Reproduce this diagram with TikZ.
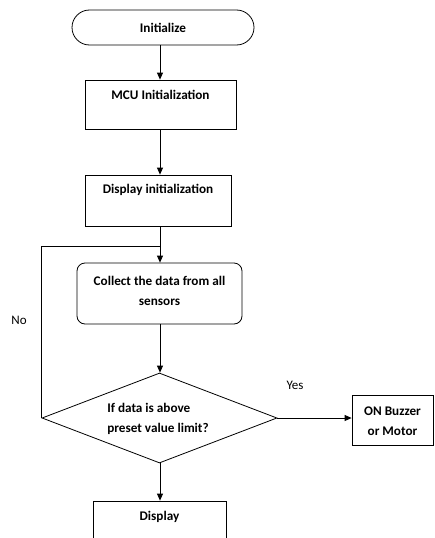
\documentclass[tikz,border=0pt]{standalone}
\usepackage{fontspec}
\setmainfont{Carlito}
\usetikzlibrary{arrows.meta,shapes.geometric,shapes.misc}
\begin{document}
\begin{tikzpicture}[x=1pt,y=-1pt,
  box/.style={draw, line width=0.8pt, rectangle, inner sep=0pt},
  lbl/.style={font=\fontsize{13.2}{20}\selectfont\bfseries, align=center, inner sep=0pt},
  note/.style={font=\fontsize{13}{15}\selectfont, inner sep=0pt},
  flow/.style={line width=0.8pt, -{Triangle[width=6pt,length=7pt]}},
  link/.style={line width=0.8pt}]
\clip (0,0) rectangle (434,538);
\fill[white] (0,0) rectangle (434,538);

% main column of the flow
\coordinate (col) at (160,0);

% start terminator
\node[draw, rounded rectangle, line width=0.8pt, minimum width=182pt, minimum height=35pt,
      inner sep=0pt, font=\fontsize{13.2}{15}\selectfont\bfseries] (init) at (163,27.5) {Initialize};

% MCU initialization
\node[box, minimum width=151pt, minimum height=49pt] (mcu) at (160.5,104.5) {};
\node[lbl] (mcut) at (160.5,95) {MCU Initialization};

% display initialization
\node[box, minimum width=146pt, minimum height=51pt] (dinit) at (158,200.5) {};
\node[lbl] (dinitt) at (158,190) {Display initialization};

% data collection
\node[box, rounded corners=8pt, minimum width=165pt, minimum height=61pt] (collect) at (159.5,293.5) {};
\node[lbl] (collectt) at (159.5,291) {Collect the data from all\\sensors};

% decision
\node[draw, diamond, line width=0.8pt, minimum width=235pt, minimum height=90pt,
      shape aspect=2.6, inner sep=0pt] (dec) at (159.5,418) {};
\node[lbl, align=left] (dect) at (158,418.5) {If data is above\\preset value limit?};

% alarm output
\node[box, minimum width=81pt, minimum height=50pt] (buzz) at (392.5,420) {};
\node[lbl] (buzzt) at (392.5,421) {ON Buzzer\\or Motor};

% display
\node[box, minimum width=133pt, minimum height=70pt] (disp) at (159.5,536) {};
\node[lbl] (dispt) at (159.5,517) {Display};

% loop-back junction
\coordinate (j) at (160,246);

% connectors
\draw[flow] (init.south -| col) -- (mcu.north -| col);
\draw[flow] (mcu.south -| col) -- (dinit.north -| col);
\draw[flow] (dinit.south -| col) -- (collect.north -| col);
\draw[flow] (collect.south -| col) -- (dec.north -| col);
\draw[link] (dec.west) -- (dec.west |- j) -- (j);
\draw[flow] (dec.east) -- (buzz.west |- dec.east);
\draw[flow] (dec.south -| col) -- (disp.north -| col);

% branch labels
\node[note] (no) at (19,320) {No};
\node[note] (yes) at (295,385) {Yes};
\end{tikzpicture}
\end{document}
